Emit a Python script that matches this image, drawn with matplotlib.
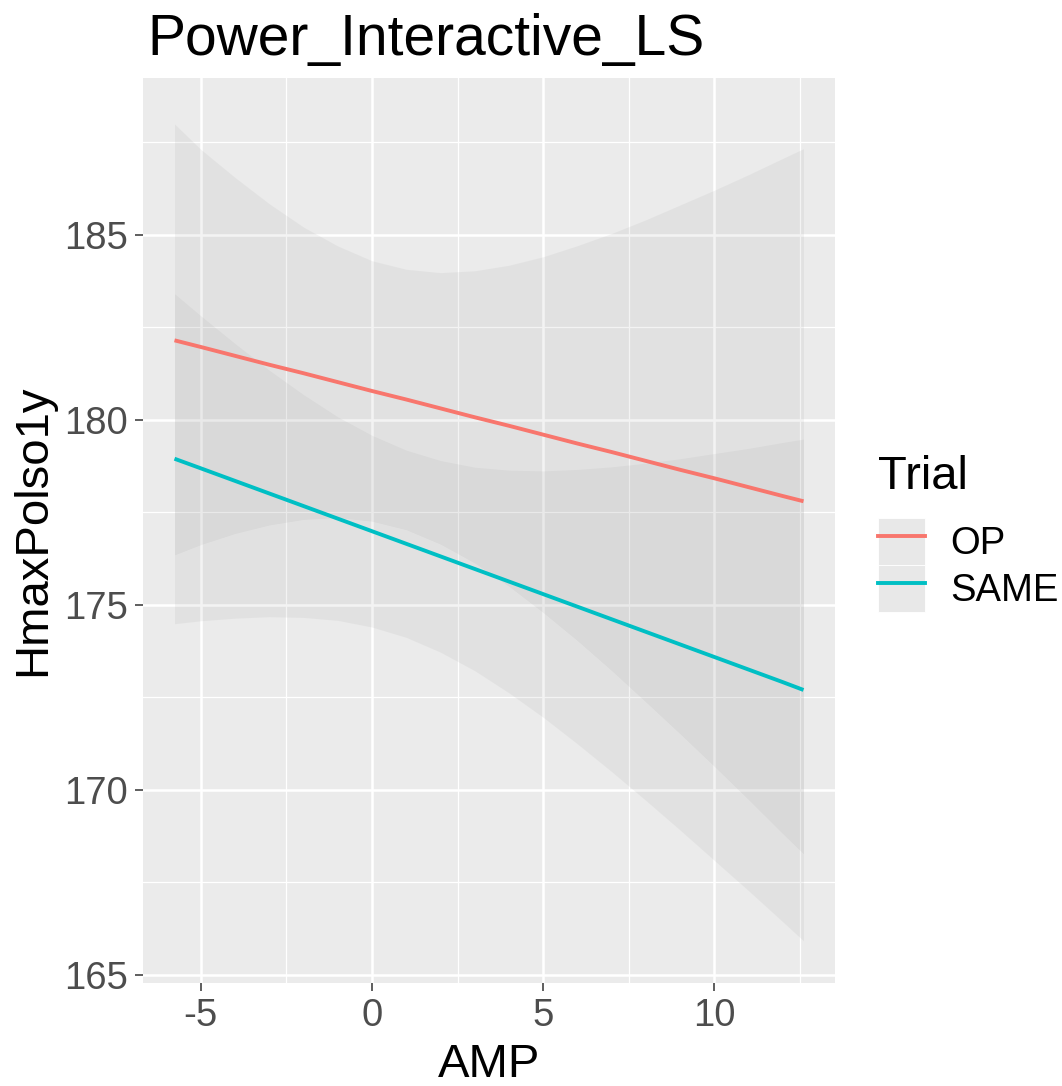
import matplotlib.pyplot as plt
import numpy as np
from matplotlib.patches import Rectangle
from matplotlib.lines import Line2D

plt.rcParams['font.family'] = ['Liberation Sans', 'DejaVu Sans']
plt.rcParams['axes.unicode_minus'] = False

# values (AMP vs fitted HmaxPolso1y with 95% band)
amp = [-5.77, -5, -4, -3, -2, -1, 0, 1, 2, 3, 4, 5, 6, 7, 8, 9, 10, 11, 12, 12.6]
op_fit = [182.15, 181.97, 181.73, 181.49, 181.26, 181.02, 180.78, 180.55, 180.31, 180.07,
          179.84, 179.60, 179.36, 179.13, 178.89, 178.65, 178.42, 178.18, 177.94, 177.80]
op_hi = [188.00, 187.31, 186.55, 185.84, 185.21, 184.70, 184.30, 184.07, 183.98, 184.03,
         184.18, 184.41, 184.71, 185.04, 185.41, 185.81, 186.21, 186.63, 187.07, 187.33]
op_lo = [176.35, 176.63, 176.93, 177.16, 177.31, 177.36, 177.26, 177.03, 176.64, 176.13,
         175.50, 174.79, 174.03, 173.22, 172.37, 171.51, 170.63, 169.73, 168.81, 168.27]
same_fit = [178.95, 178.69, 178.35, 178.01, 177.67, 177.33, 176.99, 176.65, 176.31, 175.97,
            175.63, 175.29, 174.95, 174.61, 174.27, 173.93, 173.59, 173.25, 172.91, 172.70]
same_hi = [183.41, 182.81, 182.06, 181.34, 180.68, 180.08, 179.58, 179.18, 178.90, 178.72,
           178.64, 178.62, 178.66, 178.73, 178.83, 178.95, 179.09, 179.23, 179.39, 179.48]
same_lo = [174.49, 174.57, 174.64, 174.68, 174.66, 174.58, 174.40, 174.12, 173.72, 173.22,
           172.62, 171.96, 171.24, 170.49, 169.71, 168.91, 168.09, 167.27, 166.43, 165.92]

trials = ['OP', 'SAME']
colors = {'OP': '#F8766D', 'SAME': '#00BFC4'}
series = {'OP': (op_fit, op_lo, op_hi), 'SAME': (same_fit, same_lo, same_hi)}

x_ticks = [-5, 0, 5, 10]
y_ticks = [165, 170, 175, 180, 185]

W, H = 1062, 1086
fig = plt.figure(figsize=(W / 100, H / 100), dpi=100)
ax = fig.add_axes([143 / W, 1 - 983 / H, (835 - 143) / W, (983 - 78) / H])
ax.set_facecolor('#EBEBEB')
for s in ax.spines.values():
    s.set_visible(False)

# grid like ggplot theme_grey
ax.set_xticks(x_ticks)
ax.set_yticks(y_ticks)
ax.set_xticks([-2.5, 2.5, 7.5, 12.5], minor=True)
ax.set_yticks([167.5, 172.5, 177.5, 182.5, 187.5], minor=True)
ax.grid(which='major', color='white', lw=1.8)
ax.grid(which='minor', color='white', lw=0.9)
ax.set_axisbelow(True)

for t in trials:
    fit, lo, hi = series[t]
    ax.fill_between(amp, lo, hi, color='#999999', alpha=0.11, lw=0, zorder=2)
    ax.plot(amp, fit, color=colors[t], lw=2.8, zorder=3, solid_capstyle='butt')

ax.set_xlim(-6.69, 13.52)
ax.set_ylim(164.78, 189.24)

ax.tick_params(which='major', length=6, width=1.1, color='#333333',
               labelsize=27.5, labelcolor='#4D4D4D', pad=5)
ax.tick_params(which='minor', length=0)

fig.text(147 / W, 1 - 55 / H, 'Power_Interactive_LS', fontsize=41, va='baseline', ha='left')
fig.text(489 / W, 1 - 1077 / H, 'AMP', fontsize=34, va='baseline', ha='center')
fig.text(33 / W, 1 - 530 / H, 'HmaxPolso1y', fontsize=34, va='center', ha='center', rotation=90)

handles = []
for t in trials:
    key = Rectangle((0, 0), 1, 1, facecolor='#E8E8E8', edgecolor='white', lw=0.6)
    line = Line2D([], [], color=colors[t], lw=2.8)
    handles.append((key, line))
leg = ax.legend(handles, trials, title='Trial', loc='upper left',
                bbox_to_anchor=(878 / W, 1 - 455 / H), bbox_transform=fig.transFigure,
                frameon=False, fontsize=27.5, title_fontsize=34,
                handlelength=1.24, handleheight=1.51, handletextpad=0.66,
                labelspacing=0.0, borderpad=0, borderaxespad=0, alignment='left')
leg._legend_box.sep = 14

fig.savefig('out.png', dpi=100)
